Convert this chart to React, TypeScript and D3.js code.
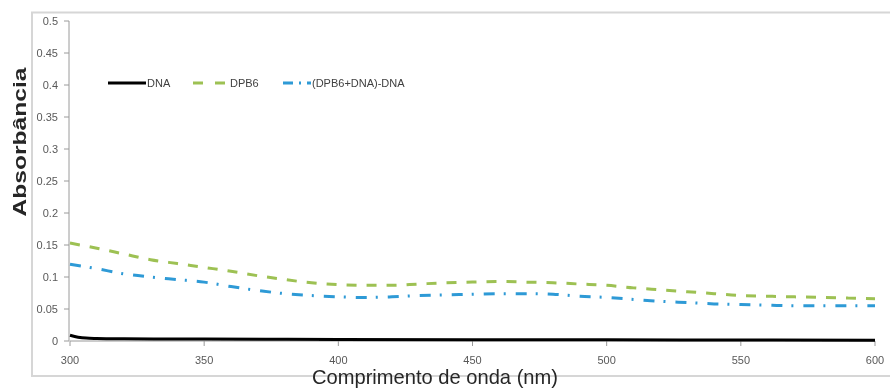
import React from "react";
import * as d3 from "d3";

// Wavelength grid (nm) shared by the two dashed series
const wavelengths = [
  300, 310, 320, 330, 340, 350, 360, 370, 380, 390, 400, 410, 420, 430, 440, 450,
  460, 470, 480, 490, 500, 510, 520, 530, 540, 550, 560, 570, 580, 590, 600,
];

const dpb6 = [
  0.153, 0.145, 0.136, 0.127, 0.121, 0.115, 0.109, 0.102, 0.096, 0.091, 0.088,
  0.087, 0.087, 0.089, 0.091, 0.092, 0.093, 0.092, 0.091, 0.089, 0.087, 0.083,
  0.08, 0.077, 0.074, 0.071, 0.07, 0.069, 0.068, 0.067, 0.066,
];

const dpb6DnaMinusDna = [
  0.12, 0.113, 0.105, 0.1, 0.096, 0.092, 0.085, 0.079, 0.074, 0.071, 0.069,
  0.068, 0.069, 0.071, 0.072, 0.073, 0.074, 0.074, 0.073, 0.07, 0.068, 0.065,
  0.062, 0.06, 0.058, 0.057, 0.056, 0.055, 0.055, 0.055, 0.055,
];

// DNA spectrum, sampled more finely where it drops at the start
const dnaWavelengths = [300, 303, 306, 310, 320, 350, 400, 450, 500, 550, 600];
const dna = [0.009, 0.006, 0.0045, 0.004, 0.0035, 0.003, 0.0025, 0.002, 0.0018, 0.0015, 0.0012];

const xTicks = [300, 350, 400, 450, 500, 550, 600];
const yTicks = [0, 0.05, 0.1, 0.15, 0.2, 0.25, 0.3, 0.35, 0.4, 0.45, 0.5];
const yTickLabels = ["0", "0.05", "0.1", "0.15", "0.2", "0.25", "0.3", "0.35", "0.4", "0.45", "0.5"];

const seriesNames = ["DNA", "DPB6", "(DPB6+DNA)-DNA"];

const W = 890;
const H = 391;
const plot = { left: 70, right: 875, top: 21, bottom: 341 };

export default function App() {
  const x = d3.scaleLinear().domain([300, 600]).range([plot.left, plot.right]);
  const y = d3.scaleLinear().domain([0, 0.5]).range([plot.bottom, plot.top]);

  const curve = d3
    .line<[number, number]>()
    .x((d) => x(d[0]))
    .y((d) => y(d[1]))
    .curve(d3.curveMonotoneX);

  const dnaPath = curve(dnaWavelengths.map((w, i) => [w, dna[i]]));
  const dpb6Path = curve(wavelengths.map((w, i) => [w, dpb6[i]]));
  const diffPath = curve(wavelengths.map((w, i) => [w, dpb6DnaMinusDna[i]]));

  const green = "#9dc152";
  const blue = "#2f9ad6";
  const font = "'Liberation Sans', Arial, sans-serif";

  return (
    <svg
      width={W}
      height={H}
      style={{ position: "absolute", left: 0, top: 0, background: "#fff" }}
      fontFamily={font}
    >
      <defs>
        <filter id="soft" x="-5%" y="-5%" width="110%" height="110%">
          <feGaussianBlur stdDeviation="0.45" />
        </filter>
      </defs>

      {/* chart frame */}
      <rect x={32} y={12.5} width={W} height={363.5} fill="none" stroke="#d6d6d6" strokeWidth={2} />

      <g filter="url(#soft)">
        {/* y axis */}
        <line x1={plot.left - 1} x2={plot.left - 1} y1={plot.top} y2={plot.bottom} stroke="#9a9a9a" strokeWidth={1} />
        {yTicks.map((t, i) => (
          <g key={t}>
            <line x1={plot.left - 6} x2={plot.left - 1} y1={y(t)} y2={y(t)} stroke="#9a9a9a" />
            <text x={58} y={y(t) + 4} fontSize={11} fill="#595959" textAnchor="end">
              {yTickLabels[i]}
            </text>
          </g>
        ))}

        {/* x axis */}
        <line x1={plot.left} x2={plot.right} y1={plot.bottom} y2={plot.bottom} stroke="#9a9a9a" />
        {xTicks.map((t) => (
          <g key={t}>
            <line x1={x(t)} x2={x(t)} y1={plot.bottom} y2={plot.bottom + 5} stroke="#9a9a9a" />
            <text x={x(t)} y={364} fontSize={11} fill="#595959" textAnchor="middle">
              {t}
            </text>
          </g>
        ))}

        {/* series */}
        <path d={dpb6Path ?? ""} fill="none" stroke={green} strokeWidth={3} strokeDasharray="10,10" />
        <path d={diffPath ?? ""} fill="none" stroke={blue} strokeWidth={3} strokeDasharray="11,9,2,10" />
        <path d={dnaPath ?? ""} fill="none" stroke="#000" strokeWidth={3} />

        {/* legend */}
        <g fontSize={11} fill="#404040">
          <line x1={108} x2={146} y1={83} y2={83} stroke="#000" strokeWidth={3} />
          <text x={147} y={87}>{seriesNames[0]}</text>
          <line x1={193} x2={226} y1={83} y2={83} stroke={green} strokeWidth={3} strokeDasharray="10,12" />
          <text x={230} y={87}>{seriesNames[1]}</text>
          <line x1={283} x2={311} y1={83} y2={83} stroke={blue} strokeWidth={3} strokeDasharray="10,6,2,6" />
          <text x={312} y={87}>{seriesNames[2]}</text>
        </g>

        {/* axis titles */}
        <text
          transform="translate(26,142) rotate(-90)"
          textAnchor="middle"
          fontSize={18}
          fontWeight="bold"
          fill="#262626"
          textLength={149}
          lengthAdjust="spacingAndGlyphs"
        >
          Absorbância
        </text>
        <text
          x={312}
          y={384}
          fontSize={21}
          fill="#262626"
          textLength={246}
          lengthAdjust="spacingAndGlyphs"
        >
          Comprimento de onda (nm)
        </text>
      </g>
    </svg>
  );
}
